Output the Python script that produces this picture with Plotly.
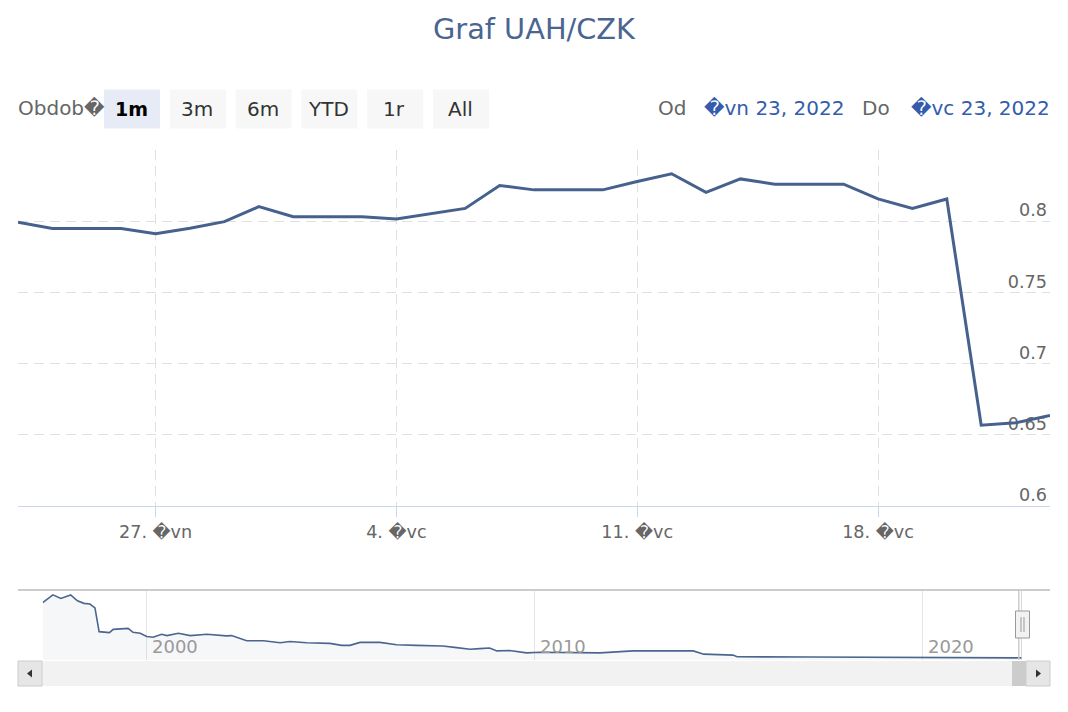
import plotly.graph_objects as go

W, H = 1068, 712
FONT = "DejaVu Sans"

# ---------------- data ----------------
day_dates = [
    "2022-06-23", "2022-06-24", "2022-06-25", "2022-06-26", "2022-06-27",
    "2022-06-28", "2022-06-29", "2022-06-30", "2022-07-01", "2022-07-02",
    "2022-07-03", "2022-07-04", "2022-07-05", "2022-07-06", "2022-07-07",
    "2022-07-08", "2022-07-09", "2022-07-10", "2022-07-11", "2022-07-12",
    "2022-07-13", "2022-07-14", "2022-07-15", "2022-07-16", "2022-07-17",
    "2022-07-18", "2022-07-19", "2022-07-20", "2022-07-21", "2022-07-22",
    "2022-07-23",
]
day_rates = [
    0.7992, 0.7949, 0.7949, 0.7949, 0.7912,
    0.7950, 0.7997, 0.8102, 0.8031, 0.8031,
    0.8031, 0.8015, 0.8055, 0.8090, 0.8251,
    0.8220, 0.8220, 0.8220, 0.8279, 0.8333,
    0.8203, 0.8297, 0.8260, 0.8260, 0.8260,
    0.8157, 0.8090, 0.8156, 0.6567, 0.6584,
    0.6636,
]

nav_dates = [
    "1997-04-27", "1997-08-01", "1997-10-15", "1998-01-15", "1998-03-20",
    "1998-05-20", "1998-07-15", "1998-09-01", "1998-10-10", "1999-01-15",
    "1999-02-20", "1999-07-10", "1999-08-25", "1999-11-01", "2000-01-01",
    "2000-03-01", "2000-05-20", "2000-07-10", "2000-10-25", "2001-02-15",
    "2001-07-20", "2002-01-20", "2002-03-10", "2002-07-30", "2003-01-05",
    "2003-06-10", "2003-09-10", "2004-02-15", "2004-09-20", "2005-01-10",
    "2005-03-28", "2005-07-01", "2006-01-05", "2006-06-10", "2006-12-15",
    "2007-08-20", "2007-12-28", "2008-05-01", "2008-08-01", "2008-11-01",
    "2009-01-10", "2009-05-10", "2009-10-15", "2010-02-20", "2011-09-05",
    "2012-07-15", "2014-02-01", "2014-05-10", "2015-02-10", "2015-03-20",
    "2017-02-05", "2020-01-20", "2022-07-20", "2022-07-23",
]
nav_rates = [
    17.6, 20.0, 18.9, 20.0, 18.2,
    17.4, 17.2, 16.0, 8.7, 8.4,
    9.4, 9.7, 8.5, 8.2, 7.2,
    7.0, 7.9, 7.5, 8.2, 7.5,
    7.9, 7.4, 7.5, 5.9, 5.9,
    5.3, 5.7, 5.3, 5.1, 4.5,
    4.5, 5.4, 5.4, 4.7, 4.5,
    4.3, 3.8, 3.3, 3.5, 3.7,
    2.8, 2.9, 2.2, 2.4, 2.2,
    2.8, 2.8, 1.8, 1.5, 1.0,
    0.9, 0.83, 0.8156, 0.6636,
]

x_tick_dates = ["2022-06-27", "2022-07-04", "2022-07-11", "2022-07-18"]
x_tick_labels = ["27. \ufffdvn", "4. \ufffdvc", "11. \ufffdvc", "18. \ufffdvc"]
y_tick_values = [0.6, 0.65, 0.7, 0.75, 0.8, 0.85]
y_tick_labels = ["0.6", "0.65", "0.7", "0.75", "0.8", ""]
nav_year_ticks = ["2000-01-01", "2010-01-01", "2020-01-01"]
nav_year_labels = ["2000", "2010", "2020"]
range_buttons = ["1m", "3m", "6m", "YTD", "1r", "All"]
selected_button = "1m"
title_text = "Graf UAH/CZK"
range_label = "Obdob\ufffd"
from_label, from_date = "Od", "\ufffdvn 23, 2022"
to_label, to_date = "Do", "\ufffdvc 23, 2022"

# ---------------- styles ----------------
LINE = "#46618e"
TITLE = "#4b6591"
GRID = "#e0e0e0"
AXIS = "#ccd6eb"
LABEL = "#666666"
BLUE = "#335cad"


def px(x):
    return x / W


def py(y):
    return 1 - y / H


fig = go.Figure()
fig.add_trace(go.Scatter(
    x=day_dates, y=day_rates, mode="lines",
    line=dict(color=LINE, width=3), xaxis="x", yaxis="y",
    hoverinfo="skip", showlegend=False,
))
fig.add_trace(go.Scatter(
    x=nav_dates, y=nav_rates, mode="lines",
    line=dict(color="#4c6590", width=1.6), fill="tozeroy",
    fillcolor="rgba(70,98,142,0.05)", xaxis="x2", yaxis="y2",
    hoverinfo="skip", showlegend=False,
))

shapes = []
annotations = []

# navigator outline
shapes.append(dict(type="line", xref="paper", yref="paper",
                   x0=px(18), x1=px(1050), y0=py(590), y1=py(590),
                   line=dict(color="#cccccc", width=2)))
for d in (day_dates[0], day_dates[-1]):
    shapes.append(dict(type="line", xref="x2", yref="paper",
                       x0=d, x1=d, y0=py(590), y1=py(660),
                       line=dict(color="#cccccc", width=1.5)))
# navigator handle (chrome, at the selection's right edge)
HX = 1022.5
shapes.append(dict(type="rect", xref="paper", yref="paper",
                   x0=px(HX - 7), x1=px(HX + 7), y0=py(638), y1=py(611),
                   fillcolor="#f2f2f2", line=dict(color="#999999", width=1)))
for off in (-1.5, 1.5):
    shapes.append(dict(type="line", xref="paper", yref="paper",
                       x0=px(HX + off), x1=px(HX + off),
                       y0=py(632), y1=py(617),
                       line=dict(color="#999999", width=1)))

# scrollbar
shapes.append(dict(type="rect", xref="paper", yref="paper",
                   x0=px(18), x1=px(1050), y0=py(686), y1=py(661),
                   fillcolor="#f2f2f2", line=dict(width=0)))
shapes.append(dict(type="rect", xref="paper", yref="paper",
                   x0=px(1012), x1=px(1026), y0=py(686), y1=py(661),
                   fillcolor="#cccccc", line=dict(width=0)))
for x0, x1 in ((18, 42), (1026, 1050)):
    shapes.append(dict(type="rect", xref="paper", yref="paper",
                       x0=px(x0), x1=px(x1), y0=py(686), y1=py(661),
                       fillcolor="#e6e6e6", line=dict(color="#cccccc", width=1)))


def tri(points):
    return "M " + " L ".join(f"{px(a):.5f},{py(b):.5f}" for a, b in points) + " Z"


shapes.append(dict(type="path", xref="paper", yref="paper",
                   path=tri([(27, 673.5), (32, 669.5), (32, 677.5)]),
                   fillcolor="#333333", line=dict(width=0)))
shapes.append(dict(type="path", xref="paper", yref="paper",
                   path=tri([(1041, 673.5), (1036, 669.5), (1036, 677.5)]),
                   fillcolor="#333333", line=dict(width=0)))

# navigator year labels
for d, t in zip(nav_year_ticks, nav_year_labels):
    annotations.append(dict(x=d, xref="x2", y=py(646), yref="paper",
                            text=t, showarrow=False, xanchor="left",
                            yanchor="middle", xshift=3,
                            font=dict(family=FONT, size=18, color="#999999")))

# range selector
annotations.append(dict(x=px(16), y=py(108), xref="paper", yref="paper",
                        text=range_label, showarrow=False, xanchor="left",
                        yanchor="middle",
                        font=dict(family=FONT, size=20, color=LABEL)))
for i, b in enumerate(range_buttons):
    x0 = 104 + i * 65.8
    sel = b == selected_button
    shapes.append(dict(type="rect", xref="paper", yref="paper",
                       x0=px(x0), x1=px(x0 + 56), y0=py(128.5), y1=py(89.5),
                       fillcolor="#e6ebf5" if sel else "#f7f7f7",
                       line=dict(width=0)))
    annotations.append(dict(x=px(x0 + 27), y=py(109), xref="paper", yref="paper",
                            text=f"<b>{b}</b>" if sel else b, showarrow=False,
                            xanchor="center", yanchor="middle",
                            font=dict(family=FONT, size=19 if sel else 20,
                                      color="#000000" if sel else "#333333")))

# date inputs
annotations.append(dict(x=px(656), y=py(108), xref="paper", yref="paper",
                        text=from_label, showarrow=False, xanchor="left",
                        yanchor="middle", font=dict(family=FONT, size=20, color=LABEL)))
annotations.append(dict(x=px(702), y=py(108), xref="paper", yref="paper",
                        text=from_date, showarrow=False, xanchor="left",
                        yanchor="middle", font=dict(family=FONT, size=20, color=BLUE)))
annotations.append(dict(x=px(860), y=py(108), xref="paper", yref="paper",
                        text=to_label, showarrow=False, xanchor="left",
                        yanchor="middle", font=dict(family=FONT, size=20, color=LABEL)))
annotations.append(dict(x=px(1052), y=py(108), xref="paper", yref="paper",
                        text=to_date, showarrow=False, xanchor="right",
                        yanchor="middle", font=dict(family=FONT, size=20, color=BLUE)))

fig.update_layout(
    width=W, height=H, autosize=False,
    margin=dict(l=0, r=0, t=0, b=0, pad=0),
    paper_bgcolor="white", plot_bgcolor="white",
    font=dict(family=FONT, color=LABEL),
    title=dict(text=title_text, x=0.5, xanchor="center", xref="paper",
               y=py(29), yanchor="middle", yref="container",
               font=dict(family=FONT, size=28.8, color=TITLE)),
    showlegend=False,
    xaxis=dict(
        domain=[px(18), px(1050)], range=[day_dates[0], day_dates[-1]],
        type="date", anchor="y", tickvals=x_tick_dates, ticktext=x_tick_labels,
        ticks="outside", ticklen=10, tickcolor=AXIS, tickwidth=1,
        showgrid=True, gridcolor=GRID, griddash="10px,6px", gridwidth=1,
        showline=True, linecolor=AXIS, linewidth=1, zeroline=False,
        tickfont=dict(family=FONT, size=17.6, color=LABEL),
        automargin=False, fixedrange=True, ticklabelstandoff=0,
    ),
    yaxis=dict(
        domain=[py(506), py(150)], range=[0.6, 0.85], anchor="x",
        side="right", tickvals=y_tick_values, ticktext=y_tick_labels,
        ticklabelposition="inside", ticklabelshift=-11, ticklabelstandoff=0,
        ticks="", showgrid=True, gridcolor=GRID, griddash="10px,6px",
        gridwidth=1, showline=False, zeroline=False, layer="below traces",
        tickfont=dict(family=FONT, size=17.6, color=LABEL),
        automargin=False, fixedrange=True,
    ),
    xaxis2=dict(
        domain=[px(42.7), px(1022)], range=[nav_dates[0], nav_dates[-1]],
        type="date", anchor="y2", showgrid=True, gridcolor="#e6e6e6",
        gridwidth=1, dtick="M120", tick0="2000-01-01",
        showticklabels=False, ticks="", showline=False, zeroline=False,
        automargin=False, fixedrange=True,
    ),
    yaxis2=dict(
        domain=[py(660), py(590)], range=[0, 21.5], anchor="x2",
        showgrid=False, showticklabels=False, ticks="", showline=False,
        zeroline=False, automargin=False, fixedrange=True,
    ),
    shapes=shapes,
    annotations=annotations,
)

fig.write_html(
    "out.html",
    config={"displayModeBar": False},
    post_script="document.body.style.margin='0px';document.body.style.overflow='hidden';",
)
